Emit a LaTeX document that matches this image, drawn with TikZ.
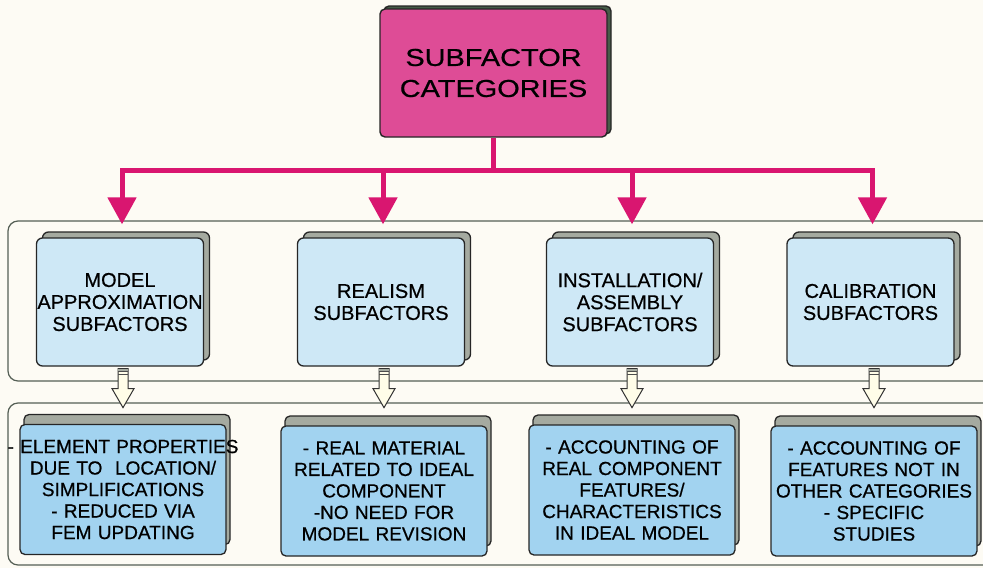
\documentclass[tikz,border=0pt]{standalone}
\usepackage{fontspec}
\setmainfont{Liberation Sans}[FakeBold=0.6]
\newfontfamily\titlefont{Liberation Sans}[FakeStretch=1.18,FakeBold=0.6]
\usetikzlibrary{arrows.meta,shadows,calc}
\definecolor{bg}{RGB}{253,251,244}
\definecolor{pinkfill}{RGB}{222,76,150}
\definecolor{pinkline}{RGB}{217,22,112}
\definecolor{midblue}{RGB}{206,232,246}
\definecolor{botblue}{RGB}{162,211,240}
\definecolor{shadowgray}{RGB}{165,170,160}
\definecolor{darkshadow}{RGB}{70,92,72}
\definecolor{framecol}{RGB}{85,95,85}
\definecolor{hollowfill}{RGB}{255,253,232}
\tikzset{
  topbox/.style={draw=black!85, line width=1.4pt, fill=pinkfill, rounded corners=5pt,
    minimum width=227pt, minimum height=128pt, inner sep=0pt, align=center,
    font=\titlefont\fontsize{24.5}{31}\selectfont,
    general shadow={shadow xshift=4pt, shadow yshift=3pt, fill=darkshadow, draw=black!85}},
  midbox/.style={draw=black!85, line width=1.3pt, fill=midblue, rounded corners=6pt,
    minimum width=167pt, minimum height=128pt, inner sep=0pt, text width=167pt, align=center,
    font=\fontsize{20}{22}\selectfont,
    general shadow={shadow xshift=6pt, shadow yshift=6pt, fill=shadowgray, draw=black!85}},
  botbox/.style={draw=black!85, line width=1.3pt, fill=botblue, rounded corners=5pt,
    minimum width=206pt, minimum height=130pt, inner sep=0pt, text width=206pt, align=center,
    font=\fontsize{19}{21.5}\selectfont,
    general shadow={shadow xshift=4pt, shadow yshift=10pt, fill=shadowgray, draw=black!85}},
  frame/.style={draw=framecol, line width=1.2pt, rounded corners=10pt},
  pinkconn/.style={draw=pinkline, line width=5pt},
  pinktip/.style={-{Triangle[width=28pt,length=27pt]}},
  hollowline/.style={draw=black!80, line width=1pt, fill=hollowfill},
  hollow/.pic={
    \draw[hollowline] (-5,2) -- (5,2) -- (5,22) -- (11,22) -- (0,41) -- (-11,22) -- (-5,22) -- cycle;
    \fill[shadowgray] (-5,2) rectangle (5,5);
    \draw[black!70, line width=0.8pt] (-5,5) -- (5,5) (-5,8) -- (5,8);
  }
}
\begin{document}
\begin{tikzpicture}[x=1pt,y=-1pt]
\fill[bg] (0,0) rectangle (983,568);
\useasboundingbox (0,0) rectangle (983,568);
\clip (0,0) rectangle (983,568);

% containers
\draw[frame] (8,221) rectangle (1000,381);
\draw[frame] (8,403) rectangle (1000,565);

% top node
\node[topbox] (top) at (493.5,73) {SUBFACTOR\\CATEGORIES};

% middle boxes
\node[midbox] (m1) at (120,302) {MODEL\\APPROXIMATION\\SUBFACTORS};
\node[midbox] (m2) at (381,302) {REALISM\\SUBFACTORS};
\node[midbox] (m3) at (630,302) {INSTALLATION/\\ASSEMBLY\\SUBFACTORS};
\node[midbox] (m4) at (870.5,302) {CALIBRATION\\SUBFACTORS};

% bottom boxes
\node[botbox] (b1) at (123,489.5) {\makebox[\linewidth]{- ELEMENT PROPERTIES}\\DUE TO\ \ LOCATION/\\SIMPLIFICATIONS\\- REDUCED VIA\\FEM UPDATING};
\node[botbox] (b2) at (384,491) {- REAL MATERIAL\\RELATED TO IDEAL\\COMPONENT\\-NO NEED FOR\\MODEL REVISION};
\node[botbox] (b3) at (632,490) {- ACCOUNTING OF\\REAL COMPONENT\\FEATURES/\\CHARACTERISTICS\\IN IDEAL MODEL};
\node[botbox] (b4) at (874,491) {- ACCOUNTING OF\\FEATURES NOT IN\\OTHER CATEGORIES\\- SPECIFIC\\STUDIES};

% pink connectors
\coordinate (hub) at (top.south |- 0,170);
\draw[pinkconn] (top.south) -- (hub);
\foreach \m in {m1,m2,m3,m4}{
  \draw[pinkconn,pinktip] (hub) -| ([xshift=2pt,yshift=13pt]\m.north);
}

% hollow arrows between levels
\foreach \m/\b in {m1/b1,m2/b2,m3/b3,m4/b4}{
  \pic at (\m.south -| \b.north) {hollow};
}
\end{tikzpicture}
\end{document}
